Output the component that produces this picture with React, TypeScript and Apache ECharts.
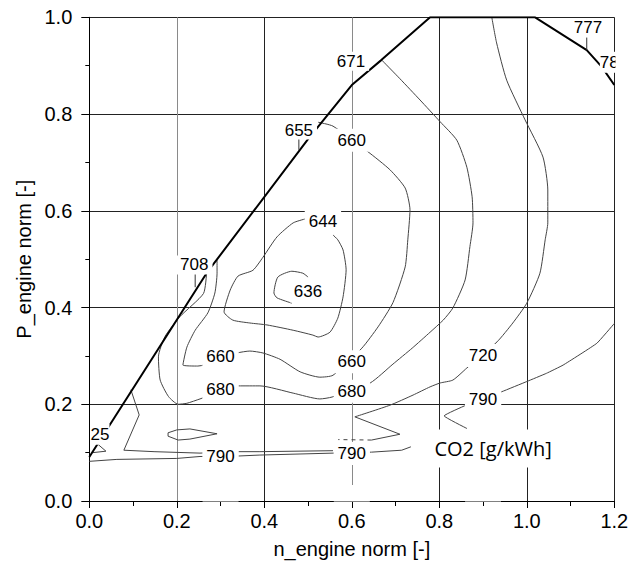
import React, { useEffect, useRef } from 'react';
import * as echarts from 'echarts';

// ---- data (x = n_engine norm, y = P_engine norm) ----
const fullLoadLine: number[][] = [
  [0, 0.091], [0.268, 0.471], [0.5, 0.748], [0.6, 0.86], [0.668, 0.912],
  [0.779, 1.0], [1.019, 1.0], [1.137, 0.932], [1.171, 0.898], [1.2, 0.86],
];

const contour636: number[][] = [
  [0.5, 0.463], [0.488, 0.471], [0.463, 0.475], [0.431, 0.463], [0.422, 0.43],
  [0.429, 0.42], [0.463, 0.409],
];

const contour644: number[][] = [
  [0.493, 0.583], [0.466, 0.575], [0.429, 0.546], [0.397, 0.504], [0.374, 0.477],
  [0.34, 0.465], [0.322, 0.436], [0.308, 0.391], [0.328, 0.374], [0.367, 0.368],
  [0.406, 0.364], [0.466, 0.353], [0.511, 0.343], [0.523, 0.339], [0.55, 0.349],
  [0.568, 0.378], [0.58, 0.422], [0.587, 0.478], [0.58, 0.519], [0.568, 0.54],
  [0.557, 0.55],
];

const contour660: number[][] = [
  [0.523, 0.783], [0.557, 0.775], [0.637, 0.722], [0.687, 0.685], [0.722, 0.647],
  [0.733, 0.602], [0.728, 0.54], [0.722, 0.484], [0.694, 0.41], [0.66, 0.36],
  [0.623, 0.316], [0.557, 0.26], [0.527, 0.256], [0.482, 0.267], [0.436, 0.293],
  [0.397, 0.306], [0.367, 0.31], [0.338, 0.306], [0.248, 0.279], [0.214, 0.281],
  [0.223, 0.318], [0.242, 0.353], [0.271, 0.389], [0.287, 0.43], [0.292, 0.471],
  [0.292, 0.498],
];

const contour680: number[][] = [
  [0.668, 0.912], [0.71, 0.873], [0.756, 0.829], [0.802, 0.784], [0.84, 0.746],
  [0.863, 0.69], [0.875, 0.629], [0.877, 0.575], [0.87, 0.526], [0.859, 0.457],
  [0.831, 0.399], [0.809, 0.374], [0.779, 0.349], [0.738, 0.316], [0.694, 0.283],
  [0.642, 0.244], [0.555, 0.215], [0.527, 0.211], [0.466, 0.223], [0.39, 0.238],
  [0.341, 0.238], [0.253, 0.211], [0.223, 0.202], [0.203, 0.2], [0.181, 0.216],
  [0.162, 0.25], [0.158, 0.298], [0.173, 0.34], [0.207, 0.381], [0.261, 0.429],
  [0.268, 0.471],
];

const contour720: number[][] = [
  [0.92, 1.0], [0.931, 0.947], [0.954, 0.87], [0.996, 0.788], [1.037, 0.711],
  [1.048, 0.643], [1.048, 0.575], [1.042, 0.54], [1.03, 0.471], [1.0, 0.409],
  [0.968, 0.368], [0.932, 0.329], [0.863, 0.275], [0.831, 0.25], [0.802, 0.244],
  [0.779, 0.236], [0.74, 0.219], [0.687, 0.198], [0.607, 0.174],
];
const contour720Zigzag: number[][] = [
  [0.607, 0.174], [0.71, 0.138], [0.645, 0.126],
];
const contour720Dashed: number[][] = [[0.645, 0.126], [0.569, 0.127]];

const contour790Right: number[][] = [
  [1.2, 0.367], [1.16, 0.326], [1.083, 0.281], [1.045, 0.264], [1.0, 0.247],
  [0.943, 0.226], [0.861, 0.198], [0.811, 0.176], [0.863, 0.15],
];

const contour790Upper: number[][] = [
  [0.095, 0.23], [0.114, 0.178], [0.079, 0.105], [0.148, 0.102], [0.253, 0.099],
  [0.34, 0.102], [0.39, 0.102], [0.557, 0.104],
];

const contour790Lower: number[][] = [
  [0, 0.082], [0.063, 0.086], [0.2, 0.088], [0.253, 0.092], [0.34, 0.093],
  [0.39, 0.095], [0.557, 0.099], [0.645, 0.101], [0.714, 0.105], [0.735, 0.112],
];

const contourLoop: number[][] = [
  [0.18, 0.141], [0.2, 0.147], [0.23, 0.149], [0.292, 0.139], [0.23, 0.128],
  [0.203, 0.126], [0.18, 0.134], [0.18, 0.141],
];

const contour725: number[][] = [[0.02, 0.117], [0.038, 0.103], [0.008, 0.1]];

const leaderLines: number[][][] = [
  [[0.479, 0.751], [0.479, 0.726]],
  [[0.242, 0.471], [0.242, 0.442]],
  [[1.137, 0.959], [1.137, 0.932]],
];

// labels on the full-load curve: text, x, y
const fullLoadLabelText = ['25', '708', '655', '671', '777', '78'];
const fullLoadLabelX = [0.003, 0.24, 0.479, 0.598, 1.14, 1.167];
const fullLoadLabelY = [0.138, 0.488, 0.767, 0.909, 0.978, 0.907];
const fullLoadLabelLeft = [true, false, false, false, false, true];

// contour labels: text, x, y
const contourLabelText = ['660', '644', '636', '660', '680', '660', '680', '720', '790', '790', '790'];
const contourLabelX = [0.6, 0.534, 0.5, 0.3, 0.3, 0.6, 0.6, 0.9, 0.9, 0.3, 0.6];
const contourLabelY = [0.746, 0.577, 0.434, 0.299, 0.23, 0.288, 0.227, 0.301, 0.21, 0.092, 0.098];

const unitLabel = 'CO2 [g/kWh]';
const unitLabelPos = [0.923, 0.1085];

const bottomGapX = [0.3, 0.6, 0.9];

const xTickValues = [0, 0.2, 0.4, 0.6, 0.8, 1.0, 1.2];

export default function App() {
  const ref = useRef<HTMLDivElement>(null);

  useEffect(() => {
    const chart = echarts.init(ref.current!, null, { renderer: 'svg' });
    const font = "'Liberation Sans', Arial, sans-serif";
    const ink = '#000';

    const thin = (data: number[][], smooth: number | boolean = false, extra: any = {}) => ({
      type: 'line',
      data,
      symbol: 'none',
      showSymbol: false,
      smooth,
      silent: true,
      z: 2,
      lineStyle: { color: '#444', width: 1, ...(extra.lineStyle || {}) },
    });

    const labelStyle = {
      show: true,
      position: 'inside',
      formatter: (p: any) => p.name,
      fontFamily: font,
      fontSize: 17,
      color: '#000',
      opacity: 1,
      textBorderWidth: 0,
      backgroundColor: '#ffffff',
      padding: [3, 4],
    };

    const fullLoadLabels = fullLoadLabelText.map((t, i) => ({
      name: t,
      value: [fullLoadLabelX[i], fullLoadLabelY[i]],
      label: fullLoadLabelLeft[i]
        ? { align: 'left', padding: [2, 0, 2, 0] }
        : { padding: [1, 4] },
    }));
    const contourLabels = contourLabelText.map((t, i) => ({
      name: t,
      value: [contourLabelX[i], contourLabelY[i]],
    }));

    const option: any = {
      animation: false,
      grid: {
        left: 89.3,
        right: 14.7,
        top: 17.3,
        bottom: 63,
        outerBoundsMode: 'none',
        containLabel: false,
      },
      xAxis: {
        type: 'value',
        min: 0,
        max: 1.2,
        interval: 0.2,
        name: 'n_engine norm [-]',
        nameLocation: 'middle',
        nameGap: 38,
        nameTextStyle: { fontFamily: font, fontSize: 20, color: ink },
        axisLine: { show: true, lineStyle: { color: ink, width: 1 } },
        axisTick: { show: true, length: 7, lineStyle: { color: ink } },
        minorTick: { show: true, splitNumber: 2, length: 5, lineStyle: { color: ink } },
        splitLine: {
          show: true,
          lineStyle: {
            color: xTickValues.map((v) => (v === 0.2 || v === 0.6 ? '#8a8a8a' : '#222')),
            width: 1,
          },
        },
        axisLabel: {
          fontFamily: font,
          fontSize: 20,
          color: ink,
          margin: 10,
          formatter: (v: number) => v.toFixed(1),
        },
      },
      yAxis: {
        type: 'value',
        min: 0,
        max: 1.0,
        interval: 0.2,
        name: 'P_engine norm [-]',
        nameLocation: 'middle',
        nameGap: 55,
        nameTextStyle: { fontFamily: font, fontSize: 20, color: ink },
        axisLine: { show: true, lineStyle: { color: ink, width: 1 } },
        axisTick: { show: true, length: 8, lineStyle: { color: ink } },
        minorTick: { show: true, splitNumber: 2, length: 4, lineStyle: { color: ink } },
        splitLine: { show: true, lineStyle: { color: '#222', width: 1 } },
        axisLabel: {
          fontFamily: font,
          fontSize: 20,
          color: ink,
          margin: 17,
          formatter: (v: number) => v.toFixed(1),
        },
      },
      series: [
        {
          type: 'line',
          data: fullLoadLine,
          symbol: 'none',
          showSymbol: false,
          silent: true,
          z: 3,
          lineStyle: { color: '#000', width: 2 },
        },
        thin(contour636, 0.2),
        thin(contour644, 0.2),
        thin(contour660, 0.2),
        thin(contour680, 0.2),
        thin(contour720, 0.2),
        thin(contour720Zigzag),
        thin(contour720Dashed, false, { lineStyle: { type: [4, 4] } }),
        thin(contour790Right, 0.1),
        thin(contour790Upper),
        thin(contour790Lower),
        thin(contourLoop),
        thin(contour725),
        ...leaderLines.map((l) => ({
          type: 'line',
          data: l,
          symbol: 'none',
          silent: true,
          z: 3,
          lineStyle: { color: '#333', width: 1 },
        })),
        {
          type: 'scatter',
          data: [...fullLoadLabels, ...contourLabels],
          symbolSize: 1,
          itemStyle: { color: 'rgba(0,0,0,0)' },
          silent: true,
          z: 6,
          label: labelStyle,
        },
        {
          type: 'scatter',
          data: [{ name: unitLabel, value: unitLabelPos }],
          symbolSize: 1,
          itemStyle: { color: 'rgba(0,0,0,0)' },
          silent: true,
          z: 7,
          label: {
            ...labelStyle,
            fontFamily: "'Open Sans', 'Noto Sans', sans-serif",
            fontSize: 20,
            color: '#000',
            padding: [9, 10],
          },
        },
      ],
    };

    chart.setOption(option);

    const toPx = (x: number, y: number) => chart.convertToPixel({ gridIndex: 0 }, [x, y]) as number[];
    const axisY = toPx(0, 0)[1];
    const rightX = toPx(1.2, 0)[0];
    const topY = toPx(0, 1)[1];
    const graphics: any[] = bottomGapX.map((gx) => {
      const c = toPx(gx, 0)[0];
      return {
        type: 'rect',
        shape: { x: c - 18, y: axisY - 16, width: 36, height: 16.6 },
        style: { fill: '#fff' },
        z: 50,
        silent: true,
      };
    });
    graphics.push({
      type: 'rect',
      shape: { x: rightX + 1.2, y: topY + 30, width: 20, height: 30 },
      style: { fill: '#fff' },
      z: 50,
      silent: true,
    });
    chart.setOption({ graphic: graphics });

    return () => chart.dispose();
  }, []);

  return (
    <div
      ref={ref}
      style={{ position: 'absolute', left: 0, top: 0, width: 629, height: 564 }}
    />
  );
}
